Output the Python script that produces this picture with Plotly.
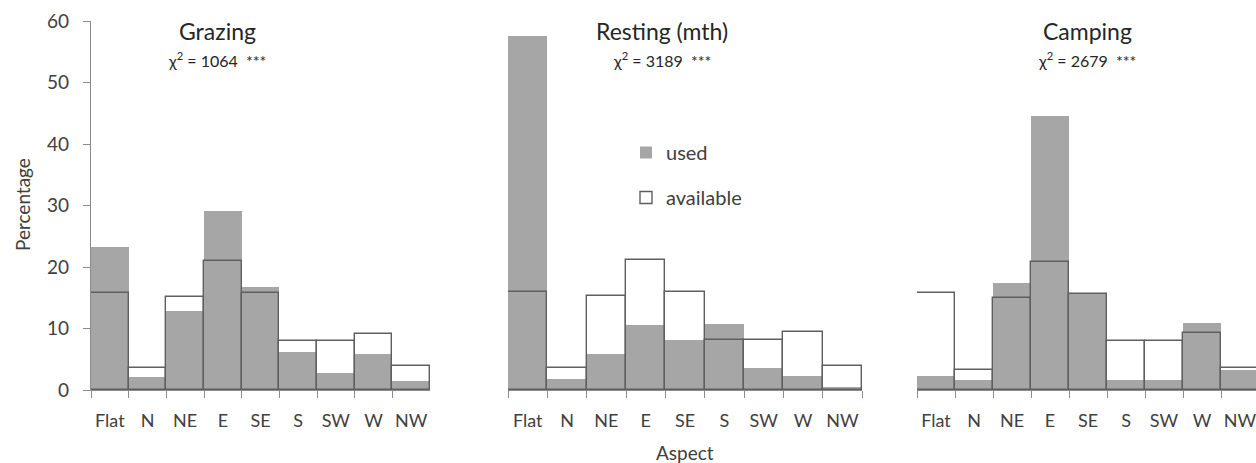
import plotly.graph_objects as go

aspects = ["Flat", "N", "NE", "E", "SE", "S", "SW", "W", "NW"]

grazing_used = [23.2, 2.1, 12.9, 29.1, 16.7, 6.1, 2.7, 5.9, 1.4]
grazing_avail = [15.7, 3.5, 15.1, 21.0, 15.7, 8.0, 8.0, 9.1, 3.9]

resting_used = [57.6, 1.8, 5.8, 10.6, 8.1, 10.7, 3.6, 2.3, 0.5]
resting_avail = [16.0, 3.5, 15.3, 21.1, 16.0, 8.1, 8.1, 9.4, 3.9]

camping_used = [2.3, 1.6, 17.4, 44.6, 15.6, 1.6, 1.7, 10.9, 3.2]
camping_avail = [15.7, 3.3, 15.0, 20.8, 15.6, 7.9, 7.9, 9.2, 3.6]

panel_titles = ["Grazing", "Resting (mth)", "Camping"]
chi_values = ["1064", "3189", "2679"]

W, H = 1256, 463
TOP, BOT = 21, 390
FONT = "Lato"
GRAY = "#A6A6A6"
OUTLINE = "#5F5F5F"
AXIS = "#8C8C8C"
TXT = "#404040"

def px(x):
    return x / W

def py(y):
    return (BOT - y) / (BOT - TOP)

domains = [[px(91), px(430)], [px(508), px(862)], [px(917), 1.0]]
xranges = [[-0.5, 8.5], [-0.5, 8.5], [-0.5, 8.42]]
data = [(grazing_used, grazing_avail), (resting_used, resting_avail), (camping_used, camping_avail)]

fig = go.Figure()
for i, (u, a) in enumerate(data):
    xa = "x" if i == 0 else f"x{i+1}"
    ya = "y" if i == 0 else f"y{i+1}"
    fig.add_trace(go.Bar(x=aspects, y=u, xaxis=xa, yaxis=ya, name="used",
                         marker=dict(color=GRAY, line=dict(width=0)),
                         showlegend=(i == 1), legendgroup="used"))
    fig.add_trace(go.Bar(x=aspects, y=a, xaxis=xa, yaxis=ya, name="available",
                         marker=dict(color="rgba(0,0,0,0)", line=dict(color=OUTLINE, width=1.4)),
                         showlegend=(i == 1), legendgroup="available"))

layout = dict(
    width=W, height=H,
    margin=dict(l=0, r=0, t=TOP, b=H - BOT, pad=0),
    paper_bgcolor="white", plot_bgcolor="white",
    barmode="overlay", bargap=0,
    font=dict(family=FONT, size=18, color=TXT),
    legend=dict(x=px(626), y=py(133), xanchor="left", yanchor="top",
                font=dict(size=20, color=TXT), tracegroupgap=16,
                bgcolor="rgba(0,0,0,0)", itemwidth=30),
)
for i in range(3):
    sx = "" if i == 0 else str(i + 1)
    layout[f"xaxis{sx}"] = dict(
        domain=domains[i], range=xranges[i], type="category",
        showline=True, linecolor=AXIS, linewidth=1.3,
        ticks="outside", tickson="boundaries", ticklen=7, tickcolor=AXIS, tickwidth=1.3,
        showgrid=False, zeroline=False, anchor="y" + sx, tickangle=0,
        tickfont=dict(size=18, color=TXT), ticklabelstandoff=14,
    )
    layout[f"yaxis{sx}"] = dict(
        range=[0, 60], domain=[0, 1], anchor="x" + sx,
        showgrid=False, zeroline=False,
        showline=(i == 0), linecolor=AXIS, linewidth=1.3,
        ticks="outside" if i == 0 else "", ticklen=7, tickcolor=AXIS, tickwidth=1.3,
        tickvals=[0, 10, 20, 30, 40, 50, 60],
        showticklabels=(i == 0), tickfont=dict(size=19, color=TXT),
        ticklabelstandoff=10,
    )
fig.update_layout(**layout)

title_x = [217, 662, 1087]
anns = []
for i in range(3):
    anns.append(dict(text=panel_titles[i], x=px(title_x[i]), y=py(31), xref="paper", yref="paper",
                     showarrow=False, xanchor="center", yanchor="middle",
                     font=dict(size=23, color="#262626")))
    anns.append(dict(text="\u03c7<sup>2</sup> = " + chi_values[i] + "\u00a0\u00a0***",
                     x=px(title_x[i]), y=py(59), xref="paper", yref="paper",
                     showarrow=False, xanchor="center", yanchor="middle",
                     font=dict(size=16, color="#262626")))
anns.append(dict(text="Percentage", x=px(22), y=py(205), xref="paper", yref="paper", textangle=-90,
                 showarrow=False, xanchor="center", yanchor="middle", font=dict(size=19, color=TXT)))
anns.append(dict(text="Aspect", x=px(685), y=py(452), xref="paper", yref="paper",
                 showarrow=False, xanchor="center", yanchor="middle", font=dict(size=19, color=TXT)))
fig.update_layout(annotations=anns)

fig.write_html("out.html")
